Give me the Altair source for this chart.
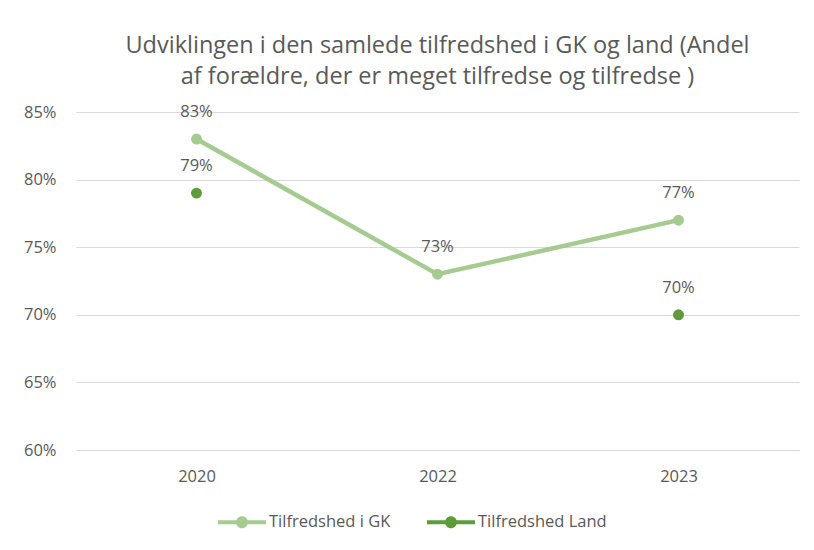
import altair as alt
import pandas as pd

years = ["2020", "2022", "2023"]
gk_values = [0.83, 0.73, 0.77]
land_values = [0.79, None, 0.70]
series_names = ["Tilfredshed i GK", "Tilfredshed Land"]
series_colors = ["#A6CB90", "#5E9B3A"]
title_lines = [
    "Udviklingen i den samlede tilfredshed i GK og land (Andel",
    "af forældre, der er meget tilfredse og tilfredse )",
]
y_ticks = [0.60, 0.65, 0.70, 0.75, 0.80, 0.85]

rows = []
for yr, g, l in zip(years, gk_values, land_values):
    rows.append({"year": yr, "series": series_names[0], "value": g})
    if l is not None:
        rows.append({"year": yr, "series": series_names[1], "value": l})
df = pd.DataFrame(rows)

FONT = "Open Sans"
TXT = "#595959"

x = alt.X(
    "year:N",
    sort=years,
    scale=alt.Scale(type="point", padding=0.5),
    axis=alt.Axis(title=None, labelAngle=0, ticks=False, domain=False, grid=False,
                  labelPadding=18, labelFontSize=16.5, labelColor=TXT, labelFont=FONT),
)
y = alt.Y(
    "value:Q",
    scale=alt.Scale(domain=[0.60, 0.85], nice=False, zero=False),
    axis=alt.Axis(title=None, format=".0%", values=y_ticks, ticks=False, domain=False,
                  grid=True, gridColor="#D9D9D9", gridWidth=1.2,
                  labelPadding=20, labelFontSize=16.5, labelColor=TXT, labelFont=FONT),
)

color_scale = alt.Scale(domain=series_names, range=series_colors)

legend_path = ("M-1,-0.085 L1,-0.085 L1,0.085 L-1,0.085 Z "
               "M-0.25,0 A0.25,0.25 0 1,1 0.25,0 A0.25,0.25 0 1,1 -0.25,0 Z")

base = alt.Chart(df)

line = base.transform_filter(alt.datum.series == series_names[0]).mark_line(
    strokeWidth=4.5, color=series_colors[0]
).encode(x=x, y=y)

points = base.mark_circle(size=120, opacity=1).encode(
    x=x, y=y,
    color=alt.Color(
        "series:N", scale=color_scale,
        legend=alt.Legend(
            title=None, orient="none", direction="horizontal",
            legendX=142, legendY=386,
            symbolType=legend_path, symbolSize=2304, symbolStrokeWidth=0,
            symbolOpacity=1,
            labelFontSize=16.5, labelColor=TXT, labelFont=FONT, labelOffset=3,
            columnPadding=36,
        ),
    ),
)

labels = base.mark_text(dy=-27, fontSize=16.5, color=TXT, font=FONT).encode(
    x=x, y=y, text=alt.Text("value:Q", format=".0%")
)

chart = alt.layer(line, points, labels).properties(
    width=723,
    height=338,
    padding={"left": 68, "top": 104, "right": 7, "bottom": 92},
    autosize=alt.AutoSizeParams(type="none"),
    background="white",
    title=alt.TitleParams(
        text=title_lines, anchor="middle", fontSize=23.5, fontWeight="normal",
        color=TXT, font=FONT, lineHeight=31, offset=16,
    ),
).configure_view(stroke=None)

chart.save("out.html", embed_options={"renderer": "svg", "actions": False})
